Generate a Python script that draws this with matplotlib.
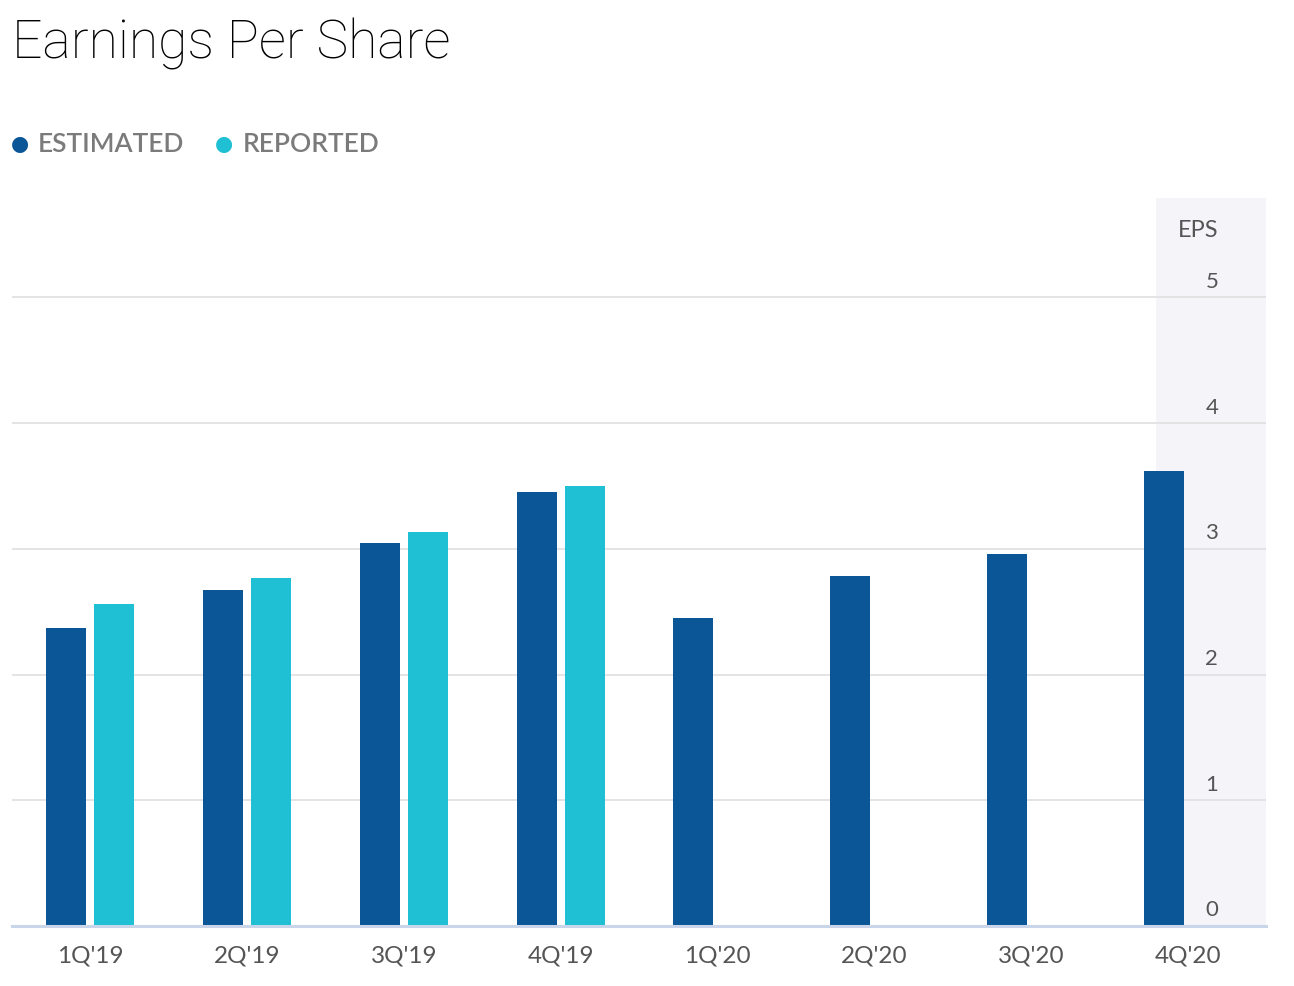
import matplotlib.pyplot as plt
import numpy as np

# quarterly EPS values
quarters = ["1Q'19", "2Q'19", "3Q'19", "4Q'19", "1Q'20", "2Q'20", "3Q'20", "4Q'20"]
estimated = [2.37, 2.67, 3.05, 3.45, 2.45, 2.78, 2.96, 3.62]
reported = [2.56, 2.77, 3.13, 3.50, None, None, None, None]
yticks = [0, 1, 2, 3, 4, 5]

EST_COLOR = "#0b5697"
REP_COLOR = "#1fbfd4"
FONT = "Lato"

fig = plt.figure(figsize=(12.94, 9.86), dpi=100)
ax = fig.add_axes([12 / 1294, 60 / 986, 1254 / 1294, 728 / 986])

x = np.arange(len(quarters))
w = 0.255
off = 0.153

# shaded axis panel on the right
ax.axvspan(6.80, 7.5, color="#f4f4f9", zorder=0, lw=0)

for yv in yticks[1:]:
    ax.axhline(yv, color="#e2e2e2", lw=1.3, zorder=1)

ax.bar(x - off, estimated, width=w, color=EST_COLOR, zorder=2)
rep_x = [xi + off for xi, r in zip(x, reported) if r is not None]
rep_v = [r for r in reported if r is not None]
ax.bar(rep_x, rep_v, width=w, color=REP_COLOR, zorder=2)

ax.set_xlim(-0.5, 7.5)
ax.set_ylim(0, 5.79)
for s in ["top", "right", "left"]:
    ax.spines[s].set_visible(False)
ax.spines["bottom"].set_color("#c9d5e8")
ax.spines["bottom"].set_linewidth(2.2)
ax.set_yticks([])
ax.set_xticks(x)
ax.set_xticklabels(quarters, fontsize=17.5, color="#555555", family=FONT)
ax.tick_params(axis="x", length=0, pad=14)

# y labels inside the shaded panel
for yv in yticks:
    ax.annotate(str(yv), (7.154, yv), xytext=(0, 4), textcoords="offset points",
                ha="center", va="bottom", fontsize=16, color="#555555", family=FONT)
ax.text(7.07, 5.53, "EPS", ha="center", va="center", fontsize=17, color="#555555", family=FONT)

# title
fig.text(12 / 1294, 1 - 58 / 986, "Earnings Per Share", fontsize=38.5, family="Roboto",
         fontweight="light", color="#000000", ha="left", va="baseline")

# legend
fig.text(20 / 1294, 1 - 144 / 986, "\u25cf", fontsize=15, color=EST_COLOR, ha="center", va="center")
fig.text(38 / 1294, 1 - 144 / 986, "ESTIMATED", fontsize=19, color="#7b7b7b", family=FONT,
         fontweight="semibold", ha="left", va="center")
fig.text(224 / 1294, 1 - 144 / 986, "\u25cf", fontsize=15, color=REP_COLOR, ha="center", va="center")
fig.text(243 / 1294, 1 - 144 / 986, "REPORTED", fontsize=19, color="#7b7b7b", family=FONT,
         fontweight="semibold", ha="left", va="center")

fig.savefig("out.png", dpi=100)
